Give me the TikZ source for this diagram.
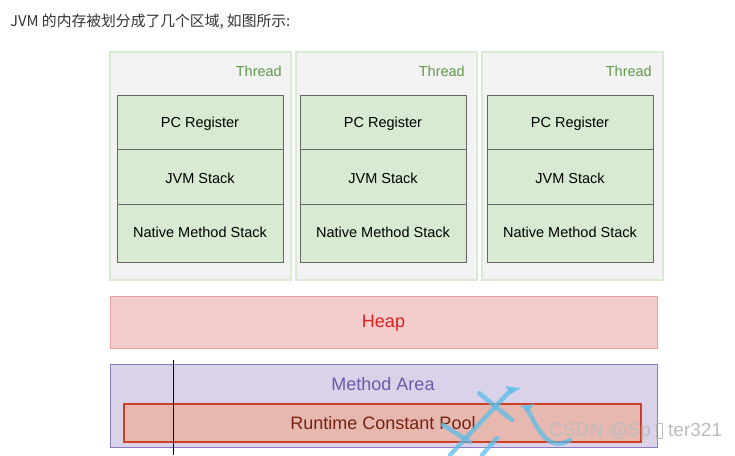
\documentclass[tikz,border=0pt]{standalone}
\usepackage{fontspec}
\setmainfont{Liberation Sans}
\newfontfamily\cjkfont{Noto Sans CJK SC}
\definecolor{outerfill}{HTML}{F3F3F3}
\definecolor{outerline}{HTML}{D9EAD3}
\definecolor{threadtxt}{HTML}{5E9A4A}
\definecolor{stackfill}{HTML}{D9EAD3}
\definecolor{stackline}{HTML}{666666}
\definecolor{heapfill}{HTML}{F4CCCC}
\definecolor{heapline}{HTML}{E9A0A0}
\definecolor{heaptxt}{HTML}{E0201F}
\definecolor{mafill}{HTML}{D9D2E9}
\definecolor{maline}{HTML}{8E7CC3}
\definecolor{matxt}{HTML}{6A5BAB}
\definecolor{rcpfill}{HTML}{E6B8AF}
\definecolor{rcpline}{HTML}{CC4125}
\definecolor{rcptxt}{HTML}{7A2210}
\definecolor{titletxt}{HTML}{333333}
\definecolor{wmblue}{HTML}{5BBDEB}
\definecolor{wmgray}{HTML}{BDBDBD}
\begin{document}
\begin{tikzpicture}[x=1pt,y=-1pt,
  box/.style={rectangle, inner sep=0pt, outer sep=0pt, anchor=north west, line width=1pt},
  outerbox/.style={box, draw=outerline, fill=outerfill, line width=1.2pt},
  stackbox/.style={box, draw=stackline, fill=stackfill, minimum width=166pt},
  stacklbl/.style={inner sep=0pt, font=\fontsize{14.5}{16}\selectfont, text=black},
  threadlbl/.style={anchor=east, inner sep=0pt, text=threadtxt, font=\fontsize{14.5}{16}\selectfont},
  bigtxt/.style={inner sep=0pt, font=\fontsize{18}{20}\selectfont}
]
\useasboundingbox (0,0) rectangle (735,455);
\fill[white] (0,0) rectangle (735,455);

% title
\node[anchor=west, inner sep=0pt, text=titletxt, font=\cjkfont\fontsize{14.8}{16}\selectfont] (title) at (10,22) {JVM 的内存被划分成了几个区域, 如图所示:};

% threads
\foreach \i/\ox/\ix in {1/110/117, 2/296/300, 3/482/487} {
  \node[outerbox, minimum width=181pt, minimum height=228pt] (thread\i) at (\ox,52) {};
  \node[threadlbl] (threadlbl\i) at ({\ix+165},71) {Thread};
  \node[stackbox, minimum height=54pt] (pc\i) at (\ix,95) {};
  \node[stackbox, minimum height=55pt] (jvm\i) at (\ix,149) {};
  \node[stackbox, minimum height=58pt] (nat\i) at (\ix,204) {};
  \node[stacklbl] (pclbl\i) at ({\ix+83},124) {PC Register};
  \node[stacklbl] (jvmlbl\i) at ({\ix+83},178) {JVM Stack};
  \node[stacklbl] (natlbl\i) at ({\ix+83},232.5) {Native Method Stack};
}

% heap
\node[box, draw=heapline, fill=heapfill, minimum width=547pt, minimum height=52pt] (heap) at (110,296) {};
\node[bigtxt, text=heaptxt] (heaplbl) at (383.5,323) {Heap};

% method area
\node[box, draw=maline, fill=mafill, minimum width=547pt, minimum height=83pt] (ma) at (110,364) {};
\node[bigtxt, text=matxt] (malbl) at (383,384) {Method Area};
\node[box, draw=rcpline, fill=rcpfill, minimum width=517pt, minimum height=38pt, line width=1.3pt] (rcp) at (124,404) {};
\node[bigtxt, text=rcptxt] (rcplbl) at (383,423.5) {Runtime Constant Pool};

% cursor line
\coordinate (curtop) at (173.5,360);
\coordinate (curbot) at (173.5,455);
\draw[black, line width=0.8pt] (curtop) -- (curbot);

% watermark logo (approximate)
\begin{scope}[wmblue, line width=4.5pt, opacity=0.75, line cap=round]
  \draw (479,393) -- (512,420);
  \draw (511,390) -- (450,455);
  \draw (443,425) -- (470,442);
  \draw (497,438) -- (482,455);
  \draw (527,409) .. controls (540,432) and (548,452) .. (570,440);
  \fill (505,386) -- (521,388) -- (511,394) -- cycle;
  \fill (520,406) -- (534,404) -- (528,412) -- cycle;
\end{scope}

% watermark text
\node[anchor=west, inner sep=0pt, text=wmgray, font=\fontsize{19}{22}\selectfont] (wm) at (549,432) {CSDN @Sp {\setlength{\fboxsep}{0pt}\setlength{\fboxrule}{0.9pt}\fbox{\rule[-1pt]{0pt}{14pt}\hspace{5pt}}} ter321};
\end{tikzpicture}
\end{document}
